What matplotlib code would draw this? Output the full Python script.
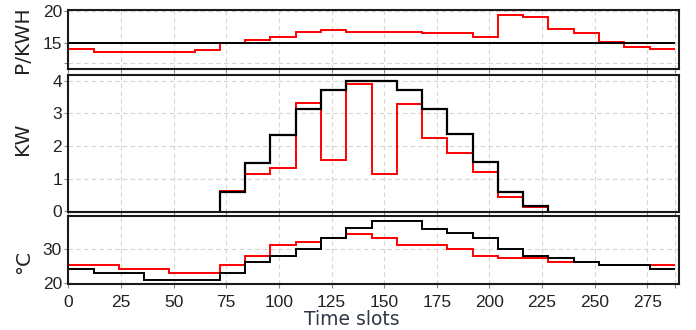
import numpy as np
import matplotlib
matplotlib.use("Agg")
import matplotlib.pyplot as plt

plt.rcParams['font.family'] = ['Liberation Sans', 'DejaVu Sans']

# hourly steps, 12 time slots each
edges = np.arange(0, 289, 12)

price_fixed = [15.0] * 24
price_var = [14.1, 13.6, 13.6, 13.6, 13.6, 13.9, 15.05, 15.5, 15.9, 16.7, 17.0, 16.7,
             16.7, 16.7, 16.5, 16.5, 15.9, 19.3, 19.0, 17.2, 16.5, 15.2, 14.4, 14.1]

kw_black = [0, 0, 0, 0, 0, 0, 0.58, 1.49, 2.34, 3.13, 3.71, 4.0,
            4.0, 3.72, 3.13, 2.36, 1.5, 0.59, 0.18, 0, 0, 0, 0, 0]
kw_red = [0, 0, 0, 0, 0, 0, 0.64, 1.14, 1.32, 3.31, 1.56, 3.89,
          1.15, 3.28, 2.24, 1.78, 1.2, 0.43, 0.15, 0, 0, 0, 0, 0]

temp_black = [24.0, 23.0, 23.0, 20.9, 20.9, 20.9, 23.0, 26.2, 27.8, 30.0, 33.1, 35.8,
              37.9, 37.9, 35.7, 34.6, 33.1, 29.8, 27.8, 27.3, 26.2, 25.2, 25.2, 24.0]
temp_red = [25.2, 25.2, 24.0, 24.0, 23.0, 23.0, 25.2, 27.8, 31.1, 32.0, 33.1, 34.2,
            33.1, 31.1, 31.1, 29.8, 27.8, 27.2, 27.2, 26.2, 26.2, 25.2, 25.2, 25.2]

xticks = [0, 25, 50, 75, 100, 125, 150, 175, 200, 225, 250, 275, 288]
xlabels = ['0', '25', '50', '75', '100', '125', '150', '175', '200', '225', '250', '275', '']

W, H = 696, 330
fig = plt.figure(figsize=(W / 100, H / 100), dpi=100)

x0, xw = 68.3 / W, 610.7 / W
ax1 = fig.add_axes([x0, (H - 69) / H, xw, 59 / H])
ax2 = fig.add_axes([x0, (H - 211.8) / H, xw, 136.8 / H])
ax3 = fig.add_axes([x0, (H - 283.5) / H, xw, 68 / H])

ax1.stairs(price_var, edges, color='red', lw=1.4, baseline=None)
ax1.stairs(price_fixed, edges, color='black', lw=1.4, baseline=None)
ax1.set_ylim(11.06, 20.1)
ax1.set_yticks([12, 15, 20])
ax1.set_yticklabels(['', '15', '20'])

# only the hours with PV output (6..18) are drawn, dropping to zero at the ends
on = slice(6, 19)
ax2.stairs(kw_red[on], edges[6:20], color='red', lw=1.4, baseline=0)
ax2.stairs(kw_black[on], edges[6:20], color='black', lw=1.6, baseline=0)
ax2.set_ylim(-0.01, 4.17)
ax2.set_yticks([0, 1, 2, 3, 4])

ax3.stairs(temp_red, edges, color='red', lw=1.4, baseline=None)
ax3.stairs(temp_black, edges, color='black', lw=1.4, baseline=None)
ax3.set_ylim(19.95, 39.5)
ax3.set_yticks([20, 30])

for ax in (ax1, ax2, ax3):
    ax.set_xlim(0, 290)
    ax.set_xticks(xticks)
    ax.grid(True, color='#d4d4d4', linestyle=(0, (4, 3)), lw=0.8)
    ax.set_axisbelow(True)
    for s in ax.spines.values():
        s.set_linewidth(1.5)
        s.set_color('#1a1a1a')
    ax.tick_params(direction='out', length=3, width=0.8, color='#888888',
                   labelsize=12.5, pad=1.5, labelcolor='#222222')

ax1.tick_params(axis='x', labelbottom=False)
ax2.tick_params(axis='x', labelbottom=False)
ax3.set_xticklabels(xlabels)
ax3.tick_params(axis='x', pad=5.5)

lab = dict(fontsize=14.5, color='#222222', family=['DejaVu Sans'])
ax1.set_ylabel('P/KWH', **lab)
ax2.set_ylabel('KW', **lab)
ax3.set_ylabel('°C', **lab)
ax1.yaxis.set_label_coords(-0.059, 0.49)
ax2.yaxis.set_label_coords(-0.059, 0.536)
ax3.yaxis.set_label_coords(-0.057, 0.31)

fig.text(352 / W, 1 - 319.5 / H, 'Time slots', fontsize=13.5, color='#303848',
         ha='center', va='center', family=['DejaVu Sans'])

fig.savefig('out.png', dpi=100)
